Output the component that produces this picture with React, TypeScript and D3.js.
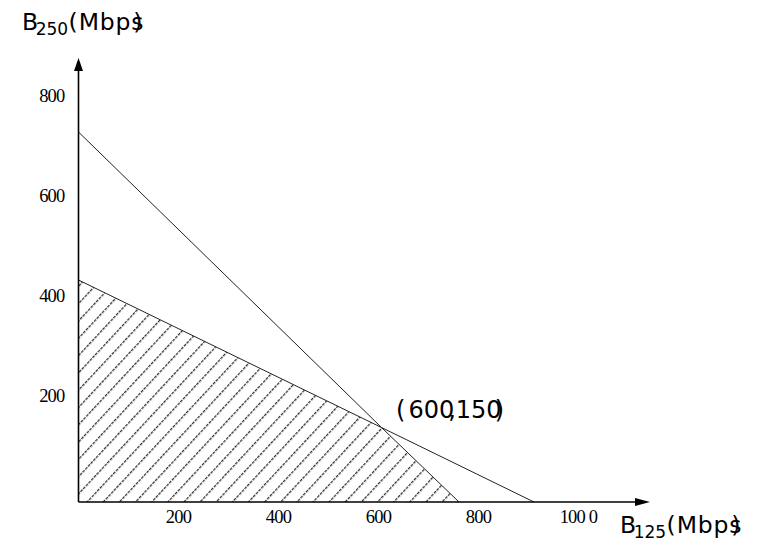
import React from "react";
import * as d3 from "d3";

const W = 758;
const H = 542;

// data (B125, B250) in Mbps
const steepLine: [number, number][] = [[0, 740], [606, 149], [761, 0]];
const shallowLine: [number, number][] = [[0, 444], [606, 149], [911, 0]];
const feasibleRegion: [number, number][] = [[0, 0], [0, 444], [606, 149], [761, 0]];
const xTicks = [200, 400, 600, 800, 1000];
const xTickLabels = ["200", "400", "600", "800", "100 0"];
const yTicks = [200, 400, 600, 800];
const yTickLabels = ["200", "400", "600", "800"];
const xAxisEnd = 1143;
const yAxisEnd = 888;

export default function App() {
  const x = d3.scaleLinear().domain([0, 1000]).range([78.5, 578.5]);
  const y = d3.scaleLinear().domain([0, 800]).range([502, 102]);
  const line = d3.line<[number, number]>().x((d) => x(d[0])).y((d) => y(d[1]));
  const closed = d3.line<[number, number]>().x((d) => x(d[0])).y((d) => y(d[1])).curve(d3.curveLinearClosed);

  const x0 = x(0);
  const y0 = y(0);
  const xEnd = x(xAxisEnd);
  const yEnd = y(yAxisEnd);

  const sans = "'DejaVu Sans', sans-serif";
  const serif = "'Liberation Serif', 'Times New Roman', serif";

  return (
    <svg width={W} height={H} style={{ position: "absolute", left: 0, top: 0, background: "#fff" }}>
      <defs>
        <pattern
          id="hatch"
          patternUnits="userSpaceOnUse"
          width={11.8}
          height={11.8}
          patternTransform="translate(5.8,0) rotate(43)"
        >
          <line x1={0} y1={-1} x2={0} y2={13} stroke="#333" strokeWidth={2.6} strokeDasharray="3,0.9" />
        </pattern>
      </defs>

      <path d={closed(feasibleRegion) || ""} fill="url(#hatch)" stroke="none" />
      <path d={line(steepLine) || ""} fill="none" stroke="#222" strokeWidth={1} />
      <path d={line(shallowLine) || ""} fill="none" stroke="#222" strokeWidth={1} />

      {/* axes */}
      <line x1={x0} y1={y0} x2={xEnd - 12} y2={y0} stroke="#000" strokeWidth={1.6} />
      <path d={`M${xEnd},${y0} L${xEnd - 15},${y0 - 4} L${xEnd - 15},${y0 + 4} Z`} fill="#000" />
      <line x1={x0} y1={y0} x2={x0} y2={yEnd + 10} stroke="#000" strokeWidth={1.6} />
      <path d={`M${x0},${yEnd} L${x0 - 4.5},${yEnd + 13} L${x0 + 4.5},${yEnd + 13} Z`} fill="#000" />

      {/* tick labels */}
      {xTicks.map((t, i) => (
        <text key={"x" + t} x={x(t)} y={y0 + 21} textAnchor="middle" fontFamily={serif} fontSize={18.5} letterSpacing={-0.8}>
          {xTickLabels[i]}
        </text>
      ))}
      {yTicks.map((t, i) => (
        <text key={"y" + t} x={x0 - 14} y={y(t)} textAnchor="end" fontFamily={serif} fontSize={18.5} letterSpacing={-0.8}>
          {yTickLabels[i]}
        </text>
      ))}

      {/* axis titles */}
      <text x={22} y={30} fontFamily={sans} fontSize={23.5} fill="#000">
        <tspan>B</tspan>
        <tspan dx={-2.5} dy={4.5} fontSize={17}>250</tspan>
        <tspan dy={-4.5} dx={0.5}>(</tspan>
        <tspan dx={1} letterSpacing={0.8}>Mbps</tspan>
        <tspan dx={-11}>)</tspan>
      </text>
      <text x={620} y={533} fontFamily={sans} fontSize={23.5} fill="#000">
        <tspan>B</tspan>
        <tspan dx={-2.5} dy={4.5} fontSize={17}>125</tspan>
        <tspan dy={-4.5} dx={0.5}>(</tspan>
        <tspan dx={1} letterSpacing={0.8}>Mbps</tspan>
        <tspan dx={-11}>)</tspan>
      </text>

      {/* annotation */}
      <text x={396} y={418} fontFamily={sans} fontSize={24} fill="#000">
        <tspan>(</tspan>
        <tspan dx={3}>600</tspan>
        <tspan dx={-6}>,</tspan>
        <tspan dx={0}>150</tspan>
        <tspan dx={-7}>)</tspan>
      </text>
    </svg>
  );
}
